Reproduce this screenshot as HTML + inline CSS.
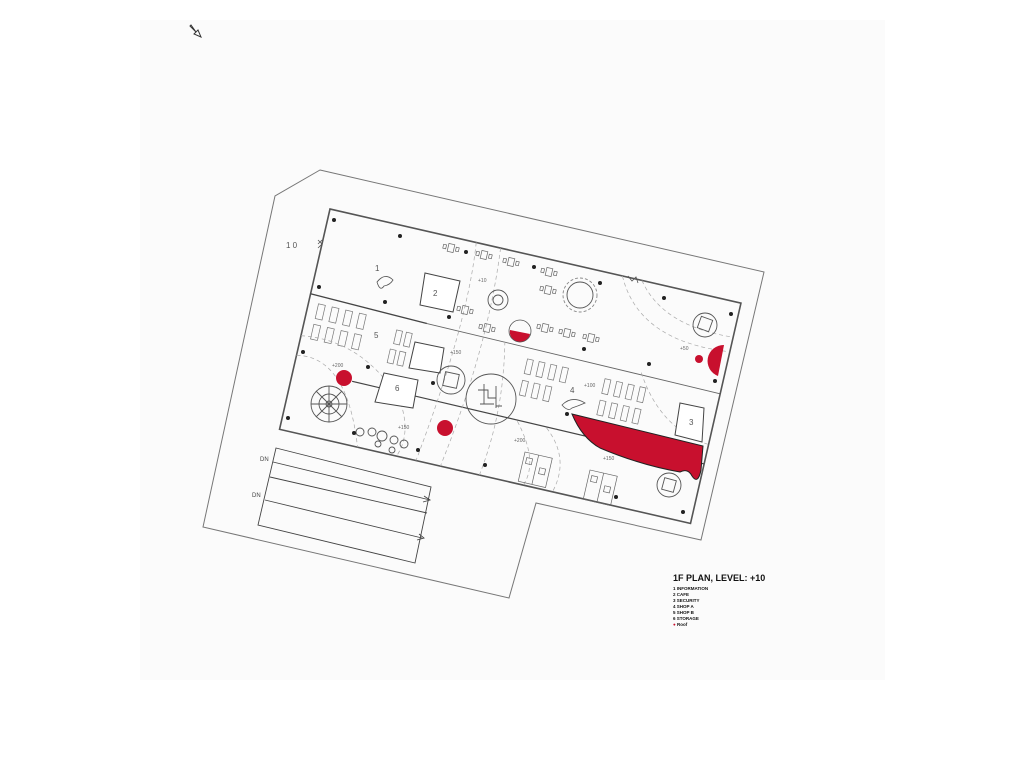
<!DOCTYPE html>
<html><head><meta charset="utf-8"><style>
html,body{margin:0;padding:0;background:#fff;}
svg{display:block}
text{font-family:"Liberation Sans",sans-serif;}
</style></head><body>
<svg width="1024" height="768" viewBox="0 0 1024 768" xmlns="http://www.w3.org/2000/svg">
<rect x="0" y="0" width="1024" height="768" fill="#fff"/>
<rect x="140" y="20" width="745" height="660" fill="#fbfbfb"/>
<!-- arrow icon -->
<path d="M190 26 L196 32 L194 34 L201 37 L198 30 L196 32 L191 25 Z" fill="none" stroke="#333" stroke-width="1"/>
<!-- site outline -->
<polygon points="320,170 764,272 701,540 536,503 509,598 203,527 275,196" fill="none" stroke="#777" stroke-width="1"/>
<!-- building -->
<g transform="translate(330,209) rotate(12.9)" stroke="#666" fill="none" stroke-width="1">
  <rect x="0" y="0" width="421.6" height="226" stroke="#555" stroke-width="1.6"/>
  <line x1="0" y1="87" x2="120" y2="90" stroke="#444" stroke-width="1.3"/>
  <line x1="120" y1="90" x2="421" y2="93" stroke-width="0.9"/>
  <line x1="60" y1="163" x2="421" y2="165" stroke="#444" stroke-width="1.2"/>
  <g stroke-width="0.7" stroke="#777">
    <rect x="10" y="95" width="7" height="15"/><rect x="24" y="95" width="7" height="15"/><rect x="38" y="95" width="7" height="15"/><rect x="52" y="95" width="7" height="15"/>
    <rect x="10" y="116" width="7" height="15"/><rect x="24" y="116" width="7" height="15"/><rect x="38" y="116" width="7" height="15"/><rect x="52" y="116" width="7" height="15"/>
    <rect x="92" y="103" width="6" height="14"/><rect x="102" y="103" width="6" height="14"/>
    <rect x="90" y="123" width="6" height="14"/><rect x="100" y="123" width="6" height="14"/>
    <rect x="226" y="102" width="6" height="15"/><rect x="238" y="102" width="6" height="15"/><rect x="250" y="102" width="6" height="15"/><rect x="262" y="102" width="6" height="15"/>
    <rect x="226" y="124" width="6" height="15"/><rect x="238" y="124" width="6" height="15"/><rect x="250" y="124" width="6" height="15"/>
    <rect x="306" y="104" width="6" height="15"/><rect x="318" y="104" width="6" height="15"/><rect x="330" y="104" width="6" height="15"/><rect x="342" y="104" width="6" height="15"/>
    <rect x="306" y="126" width="6" height="15"/><rect x="318" y="126" width="6" height="15"/><rect x="330" y="126" width="6" height="15"/><rect x="342" y="126" width="6" height="15"/>
  </g>
  <g stroke="#aaa" stroke-width="0.7" stroke-dasharray="4 3">
    <path d="M0 130 Q60 120 110 170 Q130 200 120 226"/>
    <path d="M0 150 Q50 140 80 226"/>
    <path d="M150 0 Q160 80 140 226"/>
    <path d="M175 0 Q185 100 165 226"/>
    <path d="M200 90 Q215 160 205 226"/>
    <path d="M260 165 Q290 190 280 226"/>
    <path d="M300 0 Q330 60 421 50"/>
    <path d="M320 0 Q350 40 421 35"/>
    <path d="M340 90 Q370 140 421 145"/>
    <path d="M230 165 Q260 200 250 226"/>
  </g>
</g>
<!-- rooms -->
<g fill="#fff" stroke="#444" stroke-width="1">
  <polygon points="425,273 460,281 453,312 420,305"/>
  <polygon points="415,342 444,348 440,373 409,368"/>
  <polygon points="384,373 418,380 413,408 375,402"/>
  <polygon points="680,403 704,408 702,442 675,435"/>
</g>
<path d="M377 282 Q385 272 393 280 Q390 285 384 286 Q380 292 377 282Z" fill="none" stroke="#555" stroke-width="0.8"/>
<path d="M562 405 Q572 395 585 403 Q578 406 572 408 Q568 412 562 405Z" fill="none" stroke="#555" stroke-width="0.8"/>
<path d="M318 240 l4 4 l-4 4 M322 240 l-4 4" fill="none" stroke="#555" stroke-width="0.8"/>
<path d="M628 276 l4 5 l4 -4 l2 6" fill="none" stroke="#555" stroke-width="0.8"/>
<!-- circles -->
<g fill="none" stroke="#555" stroke-width="0.9">
  <circle cx="498" cy="300" r="10"/><circle cx="498" cy="300" r="5"/>
  <circle cx="580" cy="295" r="13"/><circle cx="580" cy="295" r="17" stroke-dasharray="3 2" stroke="#888"/>
  <circle cx="705" cy="325" r="12"/><rect x="699" y="318" width="12" height="12" transform="rotate(20 705 324)"/>
  <circle cx="669" cy="485" r="12"/><rect x="663" y="479" width="12" height="12" transform="rotate(15 669 485)"/>
  <circle cx="451" cy="380" r="14"/><rect x="444" y="373" width="14" height="14" transform="rotate(12 451 380)"/>
  <circle cx="491" cy="399" r="25"/>
  <path d="M478 390 h10 v8 h8 v8 h6 M484 384 v20 M496 386 v22 M480 404 h14"/>
  <circle cx="329" cy="404" r="18"/><circle cx="329" cy="404" r="10"/><circle cx="329" cy="404" r="3"/>
  <path d="M311 404 h36 M329 386 v36 M316 391 l26 26 M342 391 l-26 26"/>
  <circle cx="360" cy="432" r="4"/><circle cx="372" cy="432" r="4"/><circle cx="382" cy="436" r="5"/><circle cx="394" cy="440" r="4"/><circle cx="404" cy="444" r="4"/><circle cx="378" cy="444" r="3"/><circle cx="392" cy="450" r="3"/>
</g>
<!-- cafe tables -->
<g fill="none" stroke="#666" stroke-width="0.7">
  <g transform="translate(451,248) rotate(13)"><rect x="-3" y="-4" width="6" height="8"/><rect x="-8" y="-2" width="3" height="4"/><rect x="5" y="-2" width="3" height="4"/></g>
  <g transform="translate(484,255) rotate(13)"><rect x="-3" y="-4" width="6" height="8"/><rect x="-8" y="-2" width="3" height="4"/><rect x="5" y="-2" width="3" height="4"/></g>
  <g transform="translate(511,262) rotate(13)"><rect x="-3" y="-4" width="6" height="8"/><rect x="-8" y="-2" width="3" height="4"/><rect x="5" y="-2" width="3" height="4"/></g>
  <g transform="translate(549,272) rotate(13)"><rect x="-3" y="-4" width="6" height="8"/><rect x="-8" y="-2" width="3" height="4"/><rect x="5" y="-2" width="3" height="4"/></g>
  <g transform="translate(548,290) rotate(13)"><rect x="-3" y="-4" width="6" height="8"/><rect x="-8" y="-2" width="3" height="4"/><rect x="5" y="-2" width="3" height="4"/></g>
  <g transform="translate(465,310) rotate(13)"><rect x="-3" y="-4" width="6" height="8"/><rect x="-8" y="-2" width="3" height="4"/><rect x="5" y="-2" width="3" height="4"/></g>
  <g transform="translate(487,328) rotate(13)"><rect x="-3" y="-4" width="6" height="8"/><rect x="-8" y="-2" width="3" height="4"/><rect x="5" y="-2" width="3" height="4"/></g>
  <g transform="translate(545,328) rotate(13)"><rect x="-3" y="-4" width="6" height="8"/><rect x="-8" y="-2" width="3" height="4"/><rect x="5" y="-2" width="3" height="4"/></g>
  <g transform="translate(567,333) rotate(13)"><rect x="-3" y="-4" width="6" height="8"/><rect x="-8" y="-2" width="3" height="4"/><rect x="5" y="-2" width="3" height="4"/></g>
  <g transform="translate(591,338) rotate(13)"><rect x="-3" y="-4" width="6" height="8"/><rect x="-8" y="-2" width="3" height="4"/><rect x="5" y="-2" width="3" height="4"/></g>
  <g transform="translate(525,452) rotate(13)"><rect x="0" y="0" width="28" height="30"/><line x1="14" y1="0" x2="14" y2="30"/><rect x="3" y="5" width="6" height="6"/><rect x="18" y="12" width="6" height="6"/></g>
  <g transform="translate(590,470) rotate(13)"><rect x="0" y="0" width="28" height="30"/><line x1="14" y1="0" x2="14" y2="30"/><rect x="3" y="5" width="6" height="6"/><rect x="18" y="12" width="6" height="6"/></g>
</g>
<!-- red -->
<g fill="#c8102e">
  <circle cx="344" cy="378" r="8"/>
  <circle cx="445" cy="428" r="8"/>
  <path d="M510 330 A10 10 0 0 0 530 334 Z"/>
  <path d="M724 345 A16 16 0 0 0 718 376 Z"/>
  <circle cx="699" cy="359" r="4"/>
  <path d="M572 414 L703 446 L701 470 Q698 485 692 476 Q688 468 680 472 Q640 465 600 448 Q582 438 572 414 Z" stroke="#222" stroke-width="1"/>
</g>
<circle cx="520" cy="331" r="11" fill="none" stroke="#555" stroke-width="0.8"/>
<!-- columns -->
<g fill="#222">
  <circle cx="334" cy="220" r="2"/><circle cx="400" cy="236" r="2"/><circle cx="466" cy="252" r="2"/><circle cx="534" cy="267" r="2"/><circle cx="600" cy="283" r="2"/><circle cx="664" cy="298" r="2"/><circle cx="731" cy="314" r="2"/>
  <circle cx="319" cy="287" r="2"/><circle cx="385" cy="302" r="2"/><circle cx="449" cy="317" r="2"/><circle cx="584" cy="349" r="2"/><circle cx="649" cy="364" r="2"/><circle cx="715" cy="381" r="2"/>
  <circle cx="303" cy="352" r="2"/><circle cx="368" cy="367" r="2"/><circle cx="433" cy="383" r="2"/><circle cx="567" cy="414" r="2"/>
  <circle cx="288" cy="418" r="2"/><circle cx="354" cy="433" r="2"/><circle cx="418" cy="450" r="2"/><circle cx="485" cy="465" r="2"/><circle cx="616" cy="497" r="2"/><circle cx="683" cy="512" r="2"/>
</g>
<!-- labels -->
<g fill="#555" font-size="8">
  <text x="286" y="248">1 0</text>
  <text x="375" y="271">1</text>
  <text x="433" y="296">2</text>
  <text x="374" y="338">5</text>
  <text x="395" y="391">6</text>
  <text x="570" y="393">4</text>
  <text x="689" y="425">3</text>
</g>
<g fill="#666" font-size="5">
  <text x="478" y="282">+10</text>
  <text x="450" y="354">+150</text>
  <text x="332" y="367">+200</text>
  <text x="584" y="387">+100</text>
  <text x="398" y="429">+150</text>
  <text x="514" y="442">+200</text>
  <text x="603" y="460">+150</text>
  <text x="680" y="350">+50</text>
</g>
<!-- stairs DN -->
<g fill="none" stroke="#444" stroke-width="0.9">
  <polygon points="276,448 431,487 415,563 258,525"/>
  <line x1="273" y1="462" x2="430" y2="500"/>
  <line x1="270" y1="477" x2="427" y2="513"/>
  <line x1="265" y1="500" x2="422" y2="538"/>
  <path d="M424 496 l6 4 l-7 2 M419 534 l5 4 l-7 2"/>
</g>
<text x="260" y="461" font-size="6" fill="#444">DN</text>
<text x="252" y="497" font-size="6" fill="#444">DN</text>
<!-- legend -->
<text x="673" y="581" font-size="9" font-weight="bold" fill="#111" style="font-family:'Liberation Sans Narrow','Liberation Sans',sans-serif">1F PLAN, LEVEL: +10</text>
<g font-size="4.5" font-weight="bold" fill="#111" style="font-family:'Liberation Sans Narrow','Liberation Sans',sans-serif">
  <text x="673" y="590">1 INFORMATION</text>
  <text x="673" y="596">2 CAFE</text>
  <text x="673" y="602">3 SECURITY</text>
  <text x="673" y="608">4 SHOP A</text>
  <text x="673" y="614">5 SHOP B</text>
  <text x="673" y="620">6 STORAGE</text>
  <text x="673" y="626"><tspan fill="#c8102e">●</tspan> Roof</text>
</g>
</svg>
</body></html>
